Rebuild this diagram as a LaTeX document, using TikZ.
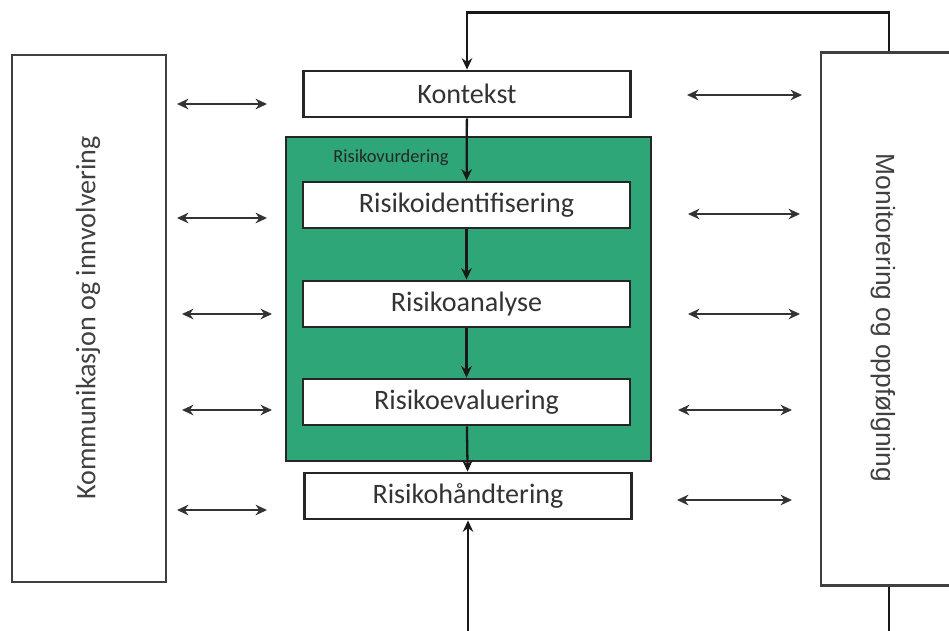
\documentclass[tikz,border=0pt]{standalone}
\usepackage{fontspec}
\setmainfont{Carlito}
\newfontfamily\arialfont{Liberation Sans}
\usetikzlibrary{arrows.meta}
\definecolor{vurdgreen}{RGB}{46,166,120}

\tikzset{
  stepbox/.style={draw=black!85, line width=1.6pt, fill=white, minimum width=6.54cm, minimum height=0.92cm, inner sep=0pt, text=black!80, font=\fontsize{16}{18}\selectfont},
  sidebox/.style={draw=black!75, line width=1.6pt, fill=white, inner sep=0pt},
  flow/.style={-{Stealth[length=6.5pt,width=6pt]}, line width=1.3pt, black!90},
  twoway/.style={{Stealth[length=6.5pt,width=6pt]}-{Stealth[length=6.5pt,width=6pt]}, line width=1.3pt, black!80},
}

\begin{document}
\begin{tikzpicture}[x=0.02cm, y=-0.02cm]
\useasboundingbox (0,0) rectangle (949,630);

% side boxes
\node[sidebox, minimum width=3.08cm, minimum height=10.54cm] (komm) at (89,318.5) {};
\node[rotate=90, font=\fontsize{16}{18}\selectfont, text=black!75] (kommtext) at (88,318) {Kommunikasjon og innvolvering};
\node[sidebox, minimum width=2.72cm, minimum height=10.67cm] (mon) at (889,319) {};
\node[rotate=-90, font=\arialfont\fontsize{15}{17}\selectfont, text=black!75] (montext) at (883,318) {Monitorering og oppfølgning};

% risk assessment block
\node[draw=black!85, line width=1.6pt, fill=vurdgreen, minimum width=7.3cm, minimum height=6.48cm] (vurd) at (468.5,299) {};
\node[font=\fontsize{10.5}{12}\selectfont, text=black!85] (vurdtext) at (391,158) {Risikovurdering};

\node[stepbox] (kontekst) at (467,94) {Kontekst};
\node[stepbox] (ident) at (466.5,205) {Risikoidentifisering};
\node[stepbox] (analyse) at (466.5,304) {Risikoanalyse};
\node[stepbox] (eval) at (466.5,402) {Risikoevaluering};
\node[stepbox] (hand) at (468,496) {Risikohåndtering};

\draw[flow] (kontekst) -- (ident);
\draw[flow] (ident) -- (analyse);
\draw[flow] (analyse) -- (eval);
\draw[flow] (eval) -- (hand);

% feedback loops
\draw[flow] (mon.north) -- ++(0,-38.5) -| (kontekst.north);
\draw[flow] (mon.south) -- ++(0,52) -| (hand.south);

% two-way arrows, left side
\coordinate (kl1) at (177,104); \coordinate (kr1) at (267,104);
\coordinate (kl2) at (177,218); \coordinate (kr2) at (267,218);
\coordinate (kl3) at (182,314); \coordinate (kr3) at (272,314);
\coordinate (kl4) at (182,410); \coordinate (kr4) at (272,410);
\coordinate (kl5) at (177,510); \coordinate (kr5) at (267,510);
\draw[twoway] (kl1) -- (kr1);
\draw[twoway] (kl2) -- (kr2);
\draw[twoway] (kl3) -- (kr3);
\draw[twoway] (kl4) -- (kr4);
\draw[twoway] (kl5) -- (kr5);

% two-way arrows, right side
\coordinate (ml1) at (687,95); \coordinate (mr1) at (802,95);
\coordinate (ml2) at (688,214); \coordinate (mr2) at (800,214);
\coordinate (ml3) at (688,314); \coordinate (mr3) at (800,314);
\coordinate (ml4) at (678,410); \coordinate (mr4) at (792,410);
\coordinate (ml5) at (677,500); \coordinate (mr5) at (792,500);
\draw[twoway] (ml1) -- (mr1);
\draw[twoway] (ml2) -- (mr2);
\draw[twoway] (ml3) -- (mr3);
\draw[twoway] (ml4) -- (mr4);
\draw[twoway] (ml5) -- (mr5);

\end{tikzpicture}
\end{document}
